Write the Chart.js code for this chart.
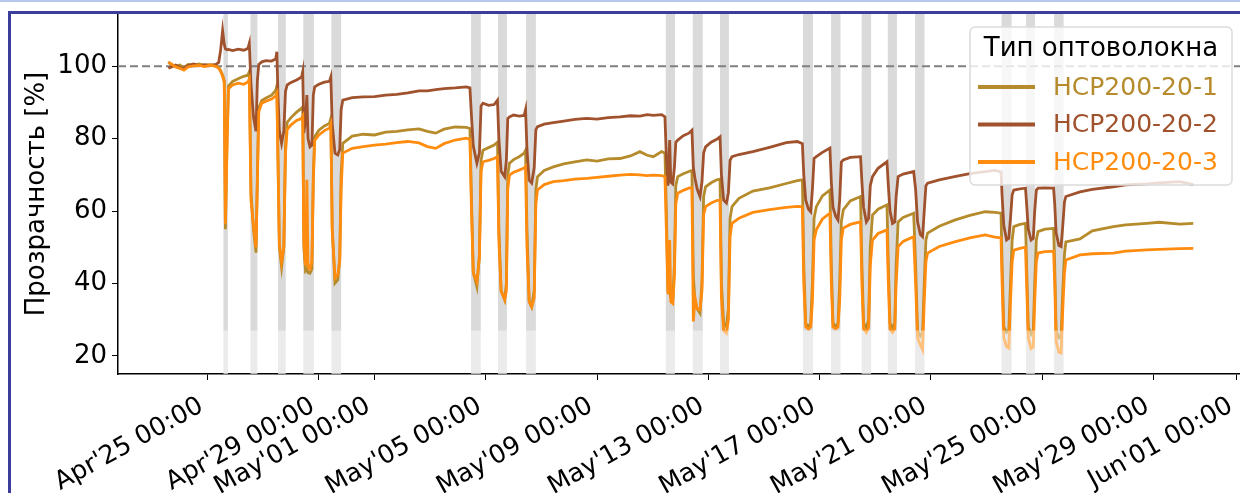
<!DOCTYPE html>
<html>
<head>
<meta charset="utf-8">
<script src="https://cdn.jsdelivr.net/npm/chart.js@4.4.1/dist/chart.umd.min.js"></script>
<style>
  html, body { margin: 0; padding: 0; background: #fff; }
  #wrap { position: relative; width: 1240px; height: 493px; overflow: hidden; }
  #grafico { position: absolute; left: 0; top: 0; }
  .sky { position: absolute; left: 0; top: 0; width: 1240px; height: 2px; background: #b5c7ea; }
  .frame-top { position: absolute; left: 8px; top: 11px; width: 1232px; height: 3px; background: #3b3f9b; }
  .frame-left { position: absolute; left: 8px; top: 11px; width: 3px; height: 482px; background: #3b3f9b; }
</style>
</head>
<body>
<div id="wrap">
  <canvas id="grafico" width="1240" height="493"></canvas>
  <div class="sky"></div>
  <div class="frame-top"></div>
  <div class="frame-left"></div>
</div>
<script>
// Datos: tiempo en dias desde Apr'25 00:00
const tiempo = [
  -1.41, -1.30, -1.15, -1.00, -0.85, -0.70, -0.50, -0.30, -0.10, 0.10, 0.30, 0.40, 0.47, 0.54, 0.60, 0.64, 0.70, 0.75, 0.90, 1.10,
  1.30, 1.45, 1.50, 1.56, 1.65, 1.74, 1.79, 1.84, 1.95, 2.10, 2.30, 2.45, 2.49, 2.53, 2.58, 2.66, 2.74, 2.80, 2.86, 3.00,
  3.20, 3.38, 3.42, 3.46, 3.52, 3.57, 3.61, 3.68, 3.75, 3.80, 3.85, 4.00, 4.20, 4.38, 4.43, 4.48, 4.58, 4.68, 4.75, 4.80,
  4.86, 5.20, 5.60, 6.00, 6.40, 6.80, 7.20, 7.60, 7.90, 8.20, 8.50, 8.90, 9.30, 9.43, 9.48, 9.55, 9.68, 9.77, 9.83, 9.90,
  10.10, 10.30, 10.42, 10.47, 10.55, 10.68, 10.74, 10.79, 10.85, 11.00, 11.20, 11.38, 11.43, 11.48, 11.56, 11.65, 11.74, 11.80, 11.86, 12.10,
  12.43, 12.80, 13.20, 13.63, 14.00, 14.40, 14.82, 15.20, 15.54, 15.80, 16.02, 16.32, 16.44, 16.49, 16.55, 16.61, 16.65, 16.72, 16.78, 16.83,
  16.90, 17.10, 17.30, 17.41, 17.46, 17.52, 17.60, 17.70, 17.77, 17.83, 17.90, 18.10, 18.30, 18.42, 18.47, 18.55, 18.65, 18.72, 18.78, 18.85,
  19.10, 19.60, 20.20, 20.80, 21.20, 21.38, 21.43, 21.50, 21.60, 21.68, 21.74, 21.80, 21.88, 22.10, 22.37, 22.42, 22.48, 22.58, 22.66, 22.72,
  22.78, 22.85, 23.10, 23.47, 23.52, 23.58, 23.68, 23.76, 23.82, 23.90, 24.10, 24.42, 24.47, 24.53, 24.62, 24.70, 24.75, 24.82, 25.00, 25.38,
  25.45, 25.52, 25.62, 25.70, 25.76, 25.82, 25.88, 26.30, 26.85, 27.40, 27.95, 28.30, 28.52, 28.56, 28.62, 28.72, 28.80, 28.86, 28.92, 28.98,
  29.20, 29.40, 29.44, 29.50, 29.60, 29.68, 29.73, 29.79, 29.85, 30.10, 30.41, 30.45, 30.50, 30.60, 30.68, 30.74, 30.80, 30.85, 31.36, 31.80,
  32.56, 33.00, 33.76, 34.20, 34.95, 35.43
]
const hcp1 = [
  101.2, 100.4, 100.0, 100.3, 99.6, 100.5, 100.3, 100.6, 100.2, 100.4, 100.1, 99.6, 98.8, 97.5, 96.0, 55.0, 80.0, 94.5, 95.8, 96.5,
  97.2, 97.5, 98.5, 65.0, 55.0, 48.5, 70.0, 88.5, 90.5, 91.2, 92.0, 93.3, 94.5, 75.0, 50.0, 44.6, 50.0, 78.0, 84.5, 85.8,
  87.3, 88.4, 88.8, 50.0, 43.5, 44.0, 43.0, 42.8, 44.0, 70.0, 80.5, 82.3, 83.5, 84.2, 85.5, 55.0, 40.1, 41.0, 47.0, 70.0,
  78.7, 80.7, 81.2, 81.0, 81.8, 82.0, 82.4, 82.7, 82.0, 81.5, 82.6, 83.2, 83.1, 82.8, 65.0, 43.0, 39.1, 48.0, 74.0, 76.8,
  77.5, 78.2, 79.0, 55.0, 38.0, 35.5, 40.0, 70.0, 73.2, 74.2, 75.0, 76.0, 76.8, 55.0, 35.0, 33.6, 38.0, 66.0, 69.5, 71.2,
  72.2, 73.0, 73.6, 74.1, 73.8, 74.4, 74.5, 75.2, 76.4, 75.4, 75.0, 76.4, 76.0, 60.0, 38.0, 37.5, 36.0, 35.5, 45.0, 67.0,
  69.5, 70.3, 70.9, 71.2, 42.0, 35.0, 33.0, 31.8, 40.0, 64.0, 66.7, 67.8, 68.6, 68.8, 40.0, 29.0, 28.1, 33.0, 58.0, 61.2,
  63.5, 65.5, 66.4, 67.6, 68.4, 68.6, 45.0, 29.0, 28.0, 29.0, 40.0, 58.0, 61.2, 64.2, 65.8, 45.0, 29.0, 28.1, 29.0, 40.0,
  57.0, 60.3, 62.8, 64.0, 45.0, 29.0, 27.8, 30.0, 50.0, 58.9, 60.5, 61.7, 45.0, 29.0, 27.8, 29.0, 45.0, 57.0, 58.2, 59.4,
  45.0, 27.0, 25.5, 26.5, 40.0, 52.0, 53.9, 55.8, 57.5, 58.8, 59.8, 59.6, 59.4, 45.0, 28.0, 26.5, 27.0, 40.0, 52.0, 55.7,
  56.3, 56.6, 45.0, 28.0, 26.0, 27.0, 40.0, 52.0, 54.3, 55.0, 55.2, 45.0, 27.0, 25.0, 25.5, 38.0, 48.0, 51.5, 52.3, 54.5,
  55.7, 56.2, 56.6, 56.9, 56.4, 56.6
]
const hcp2 = [
  99.4, 99.8, 100.3, 99.6, 99.3, 100.2, 100.6, 100.1, 100.4, 100.2, 100.5, 101.0, 104.5, 109.8, 106.0, 104.8, 104.5, 104.6, 104.3, 104.7,
  104.4, 104.9, 106.3, 95.0, 86.0, 82.0, 96.0, 100.5, 101.2, 101.5, 101.4, 102.0, 104.0, 92.0, 82.0, 78.7, 82.0, 93.0, 94.8, 95.5,
  96.2, 97.0, 98.5, 81.5, 85.0, 92.0, 80.0, 77.7, 78.2, 92.0, 94.3, 95.0, 95.6, 95.8, 97.0, 84.0, 76.0, 75.5, 77.0, 88.0,
  90.6, 91.3, 91.5, 91.6, 92.0, 92.2, 92.6, 93.2, 93.2, 93.5, 93.8, 94.0, 94.3, 94.0, 87.0, 78.0, 73.2, 76.0, 89.0, 89.8,
  89.2, 89.4, 90.6, 80.0, 71.0, 69.5, 74.0, 85.5, 86.0, 86.5, 86.2, 86.4, 88.0, 77.0, 68.5, 67.7, 72.0, 82.5, 83.3, 84.0,
  84.4, 84.8, 85.3, 85.6, 85.4, 85.8, 86.0, 86.3, 86.2, 86.6, 86.4, 86.6, 86.0, 75.0, 67.0, 79.6, 68.0, 67.5, 72.0, 79.0,
  79.6, 80.8, 81.5, 82.3, 72.0, 69.0, 66.0, 64.0, 68.0, 76.0, 77.7, 79.0, 79.8, 80.5, 70.0, 63.0, 62.2, 65.0, 74.0, 75.0,
  75.6, 76.4, 77.6, 78.9, 79.2, 78.6, 70.0, 63.0, 60.5, 59.8, 66.0, 74.5, 75.0, 76.2, 77.4, 68.0, 61.0, 58.5, 57.5, 63.0,
  73.5, 74.1, 74.8, 75.0, 68.0, 61.0, 57.0, 58.0, 67.0, 69.5, 71.8, 73.6, 67.0, 60.0, 56.6, 57.0, 64.0, 69.5, 70.2, 70.9,
  66.0, 57.0, 53.5, 52.9, 60.0, 67.0, 67.7, 68.6, 69.5, 70.3, 70.9, 71.2, 70.8, 64.0, 56.0, 52.0, 52.5, 58.0, 64.5, 65.8,
  66.1, 66.3, 62.0, 55.0, 52.0, 52.5, 60.0, 65.8, 66.3, 66.4, 66.3, 62.0, 54.0, 50.5, 50.2, 56.0, 62.5, 64.0, 65.3, 66.0,
  66.7, 67.2, 67.5, 67.8, 68.1, 67.3
]
const hcp3 = [
  101.0, 100.6, 99.8, 99.4, 98.9, 99.8, 100.1, 100.2, 99.9, 100.3, 99.9, 99.4, 98.5, 97.2, 95.5, 56.5, 78.0, 93.8, 94.8, 95.3,
  95.0, 95.6, 96.5, 63.0, 56.0, 50.0, 68.0, 87.5, 89.8, 90.3, 90.9, 91.8, 92.5, 74.0, 51.0, 46.0, 50.0, 76.0, 82.5, 83.8,
  85.0, 85.6, 86.2, 52.0, 45.0, 68.6, 44.5, 44.0, 46.0, 68.0, 79.5, 81.0, 82.2, 82.9, 84.0, 55.0, 41.5, 42.5, 46.0, 66.0,
  76.0, 77.3, 77.8, 78.2, 78.5, 78.9, 79.2, 78.8, 77.8, 77.3, 78.6, 79.6, 80.1, 79.8, 62.0, 43.0, 40.5, 47.0, 71.0, 73.6,
  74.0, 74.5, 75.0, 52.0, 38.0, 35.5, 38.0, 66.0, 69.9, 70.7, 71.3, 71.9, 72.3, 50.0, 35.0, 33.5, 36.0, 62.0, 65.8, 67.3,
  68.1, 68.4, 68.8, 69.0, 69.3, 69.6, 69.9, 70.1, 70.0, 69.8, 69.9, 69.8, 69.5, 55.0, 37.0, 52.0, 35.0, 34.5, 42.0, 62.0,
  64.9, 65.7, 66.3, 66.5, 29.5, 36.0, 33.0, 32.7, 38.0, 59.0, 61.2, 62.2, 62.9, 63.0, 36.0, 27.0, 26.3, 30.0, 53.0, 56.6,
  58.0, 59.6, 60.4, 61.0, 61.3, 61.2, 40.0, 28.0, 27.4, 28.0, 35.0, 52.0, 54.8, 57.8, 59.4, 40.0, 28.0, 27.5, 28.0, 35.0,
  52.0, 55.3, 56.3, 57.0, 40.0, 27.5, 26.5, 28.0, 45.0, 52.0, 53.8, 54.8, 40.0, 27.5, 26.5, 27.5, 40.0, 50.2, 51.6, 52.9,
  40.0, 25.0, 23.0, 21.7, 35.0, 46.0, 48.4, 50.2, 51.5, 52.6, 53.4, 52.8, 52.6, 40.0, 25.0, 22.5, 22.2, 35.0, 46.0, 49.2,
  49.7, 50.0, 40.0, 25.0, 22.0, 22.5, 35.0, 46.0, 48.4, 48.8, 48.9, 40.0, 24.0, 21.0, 20.8, 33.0, 43.0, 46.5, 47.9, 48.2,
  48.4, 48.9, 49.3, 49.4, 49.6, 49.7
]
const nombres = ['HCP200-20-1', 'HCP200-20-2', 'HCP200-20-3']
const colores = ['#B58B2C', '#A0522D', '#FF8C0F']
const tituloLeyenda = 'Тип оптоволокна'
const tituloY = 'Прозрачность [%]'

// Intervalos sombreados (dias)
const bandaInicio = [0.57, 1.54, 2.53, 3.44, 4.45, 9.47, 10.44, 11.45, 16.47, 17.44, 18.42, 21.40, 22.41, 23.51, 24.45, 25.43, 28.54, 29.42, 30.43]
const bandaFin = [0.73, 1.79, 2.81, 3.82, 4.80, 9.82, 10.76, 11.80, 16.80, 17.80, 18.74, 21.76, 22.75, 23.85, 24.78, 25.77, 28.90, 29.74, 30.77]

// Ejes
const xTicks = [0, 4, 6, 10, 14, 18, 22, 26, 30, 34, 37]
const xLabels = ["Apr'25 00:00", "Apr'29 00:00", "May'01 00:00", "May'05 00:00", "May'09 00:00", "May'13 00:00",
  "May'17 00:00", "May'21 00:00", "May'25 00:00", "May'29 00:00", "Jun'01 00:00"]
const yTicks = [20, 40, 60, 80, 100]
const xMin = -3.22, xMax = 37.11
const yMin = 15.0, yMax = 114.4
const referencia = 100
const velo = 27   // por debajo de este valor la imagen original esta aclarada

const puntos = (serie) => tiempo.map((t, i) => ({ x: t, y: serie[i] }))

//Plugin bandas grises
const bandas = {
  id: 'bandas',
  beforeDatasetsDraw(chart) {
    const { ctx, chartArea: a, scales: { x } } = chart
    ctx.save()
    ctx.fillStyle = 'rgba(211,211,211,0.85)'
    bandaInicio.forEach((ini, i) => {
      const x0 = x.getPixelForValue(ini)
      const x1 = x.getPixelForValue(bandaFin[i])
      ctx.fillRect(x0, a.top, x1 - x0, a.bottom - a.top)
    })
    ctx.restore()
  },
  afterDatasetsDraw(chart) {
    const { ctx, chartArea: a, scales: { y } } = chart
    const yv = y.getPixelForValue(velo)
    ctx.save()
    ctx.fillStyle = 'rgba(255,255,255,0.45)'
    ctx.fillRect(a.left + 1, yv, a.right - a.left, a.bottom - yv - 1)
    ctx.restore()
  }
}

//Plugin leyenda dentro del grafico
const leyenda = {
  id: 'leyenda',
  afterDraw(chart) {
    const { ctx, chartArea: a } = chart
    const w = 262, h = 158
    const left = a.right - 8 - w, top = a.top + 13
    ctx.save()
    ctx.beginPath()
    ctx.roundRect(left, top, w, h, 5)
    ctx.fillStyle = 'rgba(255,255,255,0.8)'
    ctx.fill()
    ctx.strokeStyle = '#dcdcdc'
    ctx.lineWidth = 1.5
    ctx.stroke()
    ctx.font = '26px "DejaVu Sans"'
    ctx.textBaseline = 'middle'
    ctx.textAlign = 'center'
    ctx.fillStyle = '#000'
    ctx.fillText(tituloLeyenda, left + w / 2, top + 22)
    ctx.textAlign = 'left'
    ctx.font = '25px "DejaVu Sans"'
    nombres.forEach((n, i) => {
      const y = top + 60 + i * 37.5
      ctx.strokeStyle = colores[i]
      ctx.lineWidth = 4
      ctx.beginPath()
      ctx.moveTo(left + 8, y)
      ctx.lineTo(left + 65, y)
      ctx.stroke()
      ctx.fillStyle = colores[i]
      ctx.fillText(n, left + 83, y + 1)
    })
    ctx.restore()
  }
}

Chart.defaults.font.family = '"DejaVu Sans", sans-serif'
Chart.defaults.font.size = 26
Chart.defaults.color = '#000'

const ctx = document.getElementById('grafico').getContext('2d')
new Chart(ctx, {
  type: 'line',
  data: {
    datasets: [
      { label: nombres[0], data: puntos(hcp1), borderColor: colores[0], borderWidth: 2.8, order: 3 },
      { label: nombres[1], data: puntos(hcp2), borderColor: colores[1], borderWidth: 2.8, order: 2 },
      { label: nombres[2], data: puntos(hcp3), borderColor: colores[2], borderWidth: 2.8, order: 1 },
      { label: '', data: [{ x: xMin, y: referencia }, { x: xMax, y: referencia }],
        borderColor: '#808080', borderWidth: 2, borderDash: [8, 4], order: 4 }
    ]
  },
  options: {
    responsive: false,
    animation: false,
    devicePixelRatio: 1,
    layout: { padding: { left: 0, right: 0, top: 14, bottom: 0 } },
    elements: { point: { radius: 0 }, line: { tension: 0 } },
    plugins: { legend: { display: false }, tooltip: { enabled: false } },
    scales: {
      x: {
        type: 'linear', min: xMin, max: xMax,
        afterBuildTicks: (s) => { s.ticks = xTicks.map(v => ({ value: v })) },
        afterFit: (s) => { s.height = 119; s.paddingLeft = 0; s.paddingRight = 0 },
        ticks: { autoSkip: false, minRotation: 29, maxRotation: 29, padding: 11, labelOffset: -6,
          font: { size: 25.5 }, callback: (v, i) => xLabels[i] },
        grid: { drawOnChartArea: false, drawTicks: true, tickLength: 6, tickColor: '#000' },
        border: { color: '#000', width: 1.5 }
      },
      y: {
        min: yMin, max: yMax,
        afterBuildTicks: (s) => { s.ticks = yTicks.map(v => ({ value: v })) },
        afterFit: (s) => { s.width = 118; s.paddingTop = 0; s.paddingBottom = 0 },
        ticks: { padding: 5 },
        grid: { drawOnChartArea: false, drawTicks: true, tickLength: 6, tickColor: '#000' },
        border: { color: '#000', width: 1.5 },
        title: { display: true, text: tituloY, padding: { top: 22, bottom: 0 } }
      }
    }
  },
  plugins: [bandas, leyenda]
})
</script>
</body>
</html>
